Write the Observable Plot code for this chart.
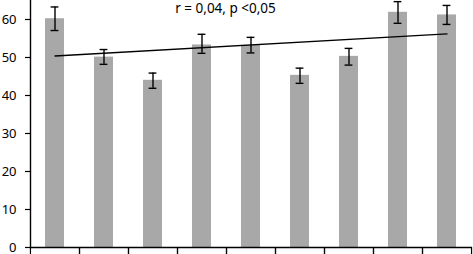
<!DOCTYPE html>
<html><head><meta charset="utf-8">
<script src="https://cdn.jsdelivr.net/npm/d3@7"></script>
<script src="https://cdn.jsdelivr.net/npm/@observablehq/plot@0.6"></script>
<style>body{margin:0;background:#fff}svg{overflow:visible}</style>
</head><body><div id="chart"></div>
<script>
const categories = ["1","2","3","4","5","6","7","8","9"];
const values = [60.2, 50.1, 44.0, 53.3, 53.2, 45.3, 50.3, 61.9, 61.2];
const errLow = [57.1, 48.2, 41.9, 51.1, 51.2, 43.2, 48.0, 59.0, 58.7];
const errHigh = [63.3, 52.1, 45.9, 56.1, 55.3, 47.2, 52.4, 64.7, 63.7];
const trendX = ["1", "9"];
const trendY = [50.4, 56.2];
const yTicks = [0, 10, 20, 30, 40, 50, 60];
const annotation = "r = 0,04, p <0,05";

const data = categories.map((c, i) => ({c, v: values[i], lo: errLow[i], hi: errHigh[i]}));
const trend = trendX.map((c, i) => ({c, v: trendY[i]}));

const W = 473, H = 254, mL = 30, mR = 1, mT = 0, mB = 7;
const half = (W - mL - mR) / categories.length / 2;

const chart = Plot.plot({
  width: W, height: H,
  marginLeft: mL, marginRight: mR, marginTop: mT, marginBottom: mB,
  style: {fontFamily: "'Noto Sans', sans-serif", fontSize: "13px", color: "#000", background: "#fff", overflow: "visible"},
  x: {domain: categories, paddingInner: 0.61, paddingOuter: 0.305, axis: null},
  y: {domain: [0, 65], axis: null},
  marks: [
    Plot.barY(data, {x: "c", y: "v", fill: "#a8a8a8"}),
    Plot.ruleX(data, {x: "c", y1: "lo", y2: "hi", stroke: "#000", strokeWidth: 1.4}),
    Plot.tickY(data, {x: "c", y: "lo", stroke: "#000", strokeWidth: 1.4, insetLeft: 5.6, insetRight: 5.6}),
    Plot.tickY(data, {x: "c", y: "hi", stroke: "#000", strokeWidth: 1.4, insetLeft: 5.6, insetRight: 5.6}),
    Plot.line(trend, {x: "c", y: "v", stroke: "#000", strokeWidth: 1.3}),
    Plot.axisY({ticks: yTicks, tickSize: 5, tickPadding: 9, stroke: "#000", strokeWidth: 1.2, fontSize: 13, fill: "#000", label: null}),
    Plot.ruleY([0], {stroke: "#000", strokeWidth: 1.4}),
    Plot.frame({anchor: "left", stroke: "#000", strokeWidth: 1.4}),
    Plot.axisX({tickSize: 7, tickFormat: null, dx: half, stroke: "#000", strokeWidth: 1.2, label: null}),
    Plot.axisX({tickSize: 7, tickFormat: null, dx: -half, stroke: "#000", strokeWidth: 1.2, label: null}),
    Plot.text([annotation], {frameAnchor: "top", dx: -26, dy: 3, lineAnchor: "top", fontSize: 13.5, fill: "#000"})
  ]
});
document.getElementById("chart").appendChild(chart);
</script>
</body></html>
